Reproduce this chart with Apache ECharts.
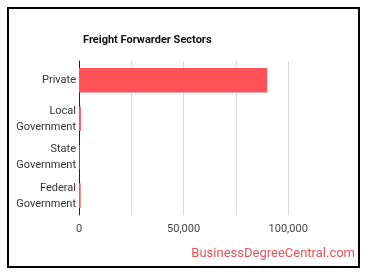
<!DOCTYPE html>
<html>
<head>
<meta charset="utf-8">
<script src="https://cdn.jsdelivr.net/npm/echarts@6/dist/echarts.min.js"></script>
<style>
  html, body { margin: 0; padding: 0; background: #fff; }
  #chart { width: 370px; height: 278px; }
</style>
</head>
<body>
<div id="chart"></div>
<script>
var categories = ['Private', 'Local\nGovernment', 'State\nGovernment', 'Federal\nGovernment'];
var workers = [90000, 900, 300, 800];
var tickMax = 125000;
var tickStep = 25000;

var chart = echarts.init(document.getElementById('chart'));
var option = {
  animation: false,
  textStyle: {fontFamily: 'Roboto'},
  title: {
    text: 'Freight Forwarder Sectors',
    left: 78,
    top: 30,
    textStyle: {fontSize: 11, fontWeight: 'bold', color: '#111', fontFamily: 'Roboto'}
  },
  graphic: [
    {
      type: 'rect',
      shape: {x: 8, y: 8, width: 351, height: 259},
      style: {fill: 'none', stroke: '#000', lineWidth: 2}
    },
    {
      type: 'text',
      right: 15,
      top: 247,
      style: {text: 'BusinessDegreeCentral.com', fill: '#e8525a', font: '13px Roboto'}
    }
  ],
  grid: {left: 79, top: 61, width: 261.5, height: 154},
  xAxis: {
    type: 'value',
    min: 0,
    max: tickMax,
    interval: tickStep,
    axisLine: {show: false},
    axisTick: {show: false},
    splitLine: {show: true, showMaxLine: false, lineStyle: {color: '#d9d9d9'}},
    axisLabel: {
      color: '#444',
      fontSize: 11,
      margin: 9,
      formatter: function (v) {
        return v % 50000 === 0 ? v.toLocaleString('en-US') : '';
      }
    }
  },
  yAxis: {
    type: 'category',
    inverse: true,
    data: categories,
    axisLine: {show: true, lineStyle: {color: '#222', width: 1}},
    axisTick: {show: false},
    axisLabel: {color: '#333', fontSize: 11, lineHeight: 16, margin: 3}
  },
  series: [
    {
      type: 'bar',
      data: workers,
      barCategoryGap: '36%',
      itemStyle: {color: '#ff5257'}
    }
  ]
};
chart.setOption(option);
</script>
</body>
</html>
